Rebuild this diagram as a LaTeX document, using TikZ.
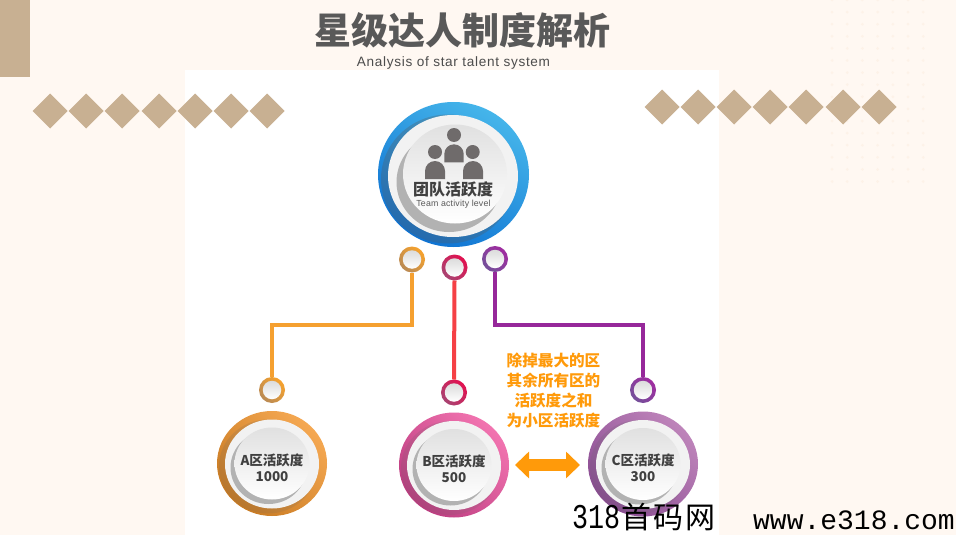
\documentclass[tikz,border=0pt]{standalone}
\usepackage{fontspec}
\setmainfont{Noto Sans CJK SC}
\newfontfamily\latinlight[LetterSpace=5]{Liberation Sans}
\newfontfamily\latinsmall[LetterSpace=2]{Liberation Sans}
\newfontfamily\wmlat{Liberation Mono}
\usetikzlibrary{shapes.geometric,arrows.meta,calc}
\definecolor{paper}{HTML}{FFF8F2}
\definecolor{tan}{HTML}{C8B092}
\definecolor{dotc}{HTML}{FDF2E8}
\definecolor{icon}{HTML}{6F6B6B}
\definecolor{txtd}{HTML}{404040}
\definecolor{ora}{HTML}{FF9A0A}
\definecolor{lineo}{HTML}{F5A030}
\definecolor{liner}{HTML}{F54045}
\definecolor{linep}{HTML}{96289A}
\definecolor{blueL}{HTML}{45B5EA}
\definecolor{blueD}{HTML}{0E72D2}
\definecolor{oraL}{HTML}{F5A852}
\definecolor{oraD}{HTML}{C87A22}
\definecolor{pinkL}{HTML}{F274B0}
\definecolor{pinkD}{HTML}{BC3C80}
\definecolor{purL}{HTML}{BE84BA}
\definecolor{purD}{HTML}{8A4C92}
\definecolor{poL}{HTML}{F7A22C}
\definecolor{poD}{HTML}{B98A55}
\definecolor{prL}{HTML}{E2104F}
\definecolor{prD}{HTML}{A84472}
\definecolor{ppL}{HTML}{A02CA0}
\definecolor{ppD}{HTML}{74509A}
\tikzset{
  oval/.style={ellipse,inner sep=0pt,outer sep=0pt},
  disc/.style={oval,shade,shading=axis,top color=#1,bottom color=white,shading angle=0},
  link/.style={line width=4pt,line join=miter},
  bubtext/.style={text=txtd,align=center,font=\fontsize{13.5}{16}\selectfont\bfseries},
  dia/.style={tan}
}
% name, x, y, light colour, dark colour, text
\newcommand{\bub}[6]{%
  \node[oval,minimum width=110pt,minimum height=105pt,shade,shading=axis,top color=#4,bottom color=#5,shading angle=-45] (#1) at (#2,#3) {};
  \node[oval,fill=black!60,opacity=.16,minimum width=98pt,minimum height=94pt] (#1d) at ($(#2,#3)+(-4,3)$) {};
  \node[oval,fill=white!95!black,minimum width=94pt,minimum height=89pt] (#1w) at ($(#2,#3)+(0,.5)$) {};
  \node[oval,fill=black!30,minimum width=76pt,minimum height=73pt] (#1g) at ($(#2,#3)+(-3.5,4)$) {};
  \node[disc=black!12,minimum width=75pt,minimum height=72pt] (#1i) at (#2,#3) {};
  \node[bubtext] (#1t) at ($(#2,#3)+(0,4)$) {#6};
}
% name, x, y, light colour, dark colour
\newcommand{\pin}[5]{%
  \node[oval,minimum size=26pt,shade,shading=axis,top color=#4,bottom color=#5,shading angle=-45] (#1) at (#2,#3) {};
  \node[disc=black!14,minimum size=18.5pt] (#1i) at (#2,#3) {};
}
\begin{document}
\begin{tikzpicture}[x=1pt,y=-1pt]
\useasboundingbox (0,0) rectangle (956,535);
\fill[paper] (0,0) rectangle (956,535);
\foreach \i in {0,...,6}{\foreach \j in {0,...,15}{
  \fill[dotc] (832+15.2*\i,12.1*\j) circle[radius=1.5pt];}}
\fill[white] (185,70) rectangle (719,535);
\fill[tan] (0,0) rectangle (30,77);
\foreach \c in {50,86,122,159,195,231,267}{
  \fill[dia] (\c-17.5,111) -- (\c,93.5) -- (\c+17.5,111) -- (\c,128.5) -- cycle;}
\foreach \c in {662,698,734,770,806,843,879}{
  \fill[dia] (\c-17.5,107) -- (\c,89.5) -- (\c+17.5,107) -- (\c,124.5) -- cycle;}

\node[text=black!65,font=\fontsize{37}{40}\selectfont\bfseries] (title) at (462,30) {星级达人制度解析};
\node[text=black!70,font=\latinlight\fontsize{13.6}{16}\selectfont] (sub) at (453.5,62.5) {Analysis of star talent system};

% centre bubble
\node[oval,minimum width=151pt,minimum height=145pt,shade,shading=axis,top color=blueL,bottom color=blueD,shading angle=-30] (top) at (453.5,174.5) {};
\node[oval,fill=black!65,opacity=.3,minimum width=134pt,minimum height=129pt] (topd) at (448,179) {};
\node[oval,fill=white!95!black,minimum width=130pt,minimum height=122pt] (topw) at (453,176) {};
\node[oval,fill=black!30,minimum width=105pt,minimum height=100pt] (topg) at (449,182) {};
\node[disc=black!12,minimum width=104pt,minimum height=99pt] (topi) at (455,174) {};
\fill[icon] (454,135) circle[radius=7pt] (435,152) circle[radius=7pt] (472.7,152) circle[radius=7pt];
\fill[icon] (444.3,162.3) -- (444.3,154) arc[start angle=180,end angle=0,radius=9.7pt] -- (463.7,162.3) -- cycle;
\fill[icon] (425,179) -- (425,171) arc[start angle=180,end angle=0,radius=10pt] -- (445,179) -- cycle;
\fill[icon] (463,179) -- (463,171) arc[start angle=180,end angle=0,radius=10pt] -- (483,179) -- cycle;
\node[text=txtd,font=\fontsize{16}{18}\selectfont\bfseries] (toplabel) at (453,189) {团队活跃度};
\node[text=black!65,font=\latinsmall\fontsize{8.8}{10}\selectfont] (topsub) at (453.5,204.5) {Team activity level};

% pins
\pin{pa}{412}{259.5}{poL}{poD}
\pin{pb}{454.5}{267.5}{prL}{prD}
\pin{pc}{495}{259}{ppL}{ppD}
\pin{qa}{272}{390}{poL}{poD}
\pin{qb}{454}{392.5}{prL}{prD}
\pin{qc}{643}{390}{ppL}{ppD}

% connectors
\draw[link,lineo] (pa.south) -- (pa.south |- 0,325) -- (qa.north |- 0,325) -- (qa.north);
\draw[link,liner] (pb.south) -- (qb.north);
\draw[link,linep] (pc.south) -- (pc.south |- 0,325) -- (qc.north |- 0,325) -- (qc.north);

% zone bubbles
\bub{za}{272}{463.5}{oraL}{oraD}{A区活跃度\\1000}
\bub{zb}{454}{465}{pinkL}{pinkD}{B区活跃度\\500}
\bub{zc}{643}{464}{purL}{purD}{C区活跃度\\300}

\node[text=ora,align=center,font=\fontsize{15.6}{20}\selectfont\bfseries] (note) at (553.5,391) {除掉最大的区\\其余所有区的\\活跃度之和\\为小区活跃度};
\draw[ora,line width=12pt,{Triangle[length=14pt,width=26pt]}-{Triangle[length=14pt,width=26pt]},shorten <=6pt,shorten >=8pt] (zb.east) -- (zb.east -| zc.west);

% watermark
\node[anchor=west,text=black,inner sep=0pt,font=\fontsize{30}{32}\selectfont] (wma) at (572,517.5) {\scalebox{1}[1.3]{\wmlat\fontsize{26.7}{30}\selectfont 318}\hspace{1pt}首\hspace{2pt}码\hspace{2pt}网};
\node[anchor=east,text=black,inner sep=0pt,font=\wmlat\fontsize{28}{30}\selectfont] (wmb) at (955,520) {www.e318.com};
\end{tikzpicture}
\end{document}
